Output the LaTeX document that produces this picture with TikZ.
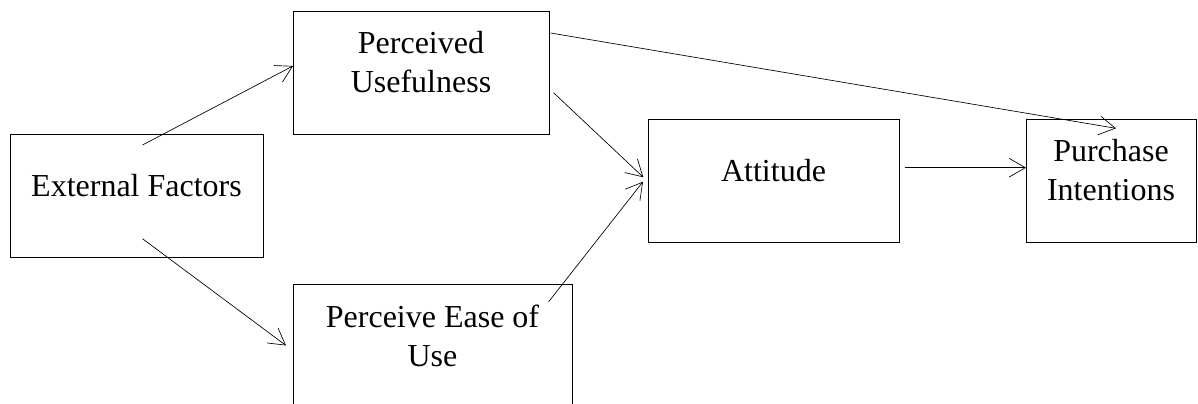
\documentclass[tikz,border=0pt]{standalone}
\usepackage{fontspec}
\setmainfont{Liberation Serif}
\usetikzlibrary{arrows,arrows.meta,shapes,positioning}
\tikzstyle{box} = [
  rectangle, draw, line width=0.6pt, outer sep=0pt, inner sep=5pt,
  align=flush center, minimum height=92.25pt,
  font=\fontsize{24pt}{29.25pt}\selectfont,
  execute at end node={\endgraf\vspace{15pt}\hrule height 0pt}
]
\tikzstyle{link} = [
  -{Straight Barb[angle=60:14pt]}, line width=0.5pt
]

\begin{document}
\begin{tikzpicture}
    \useasboundingbox (0,0) rectangle (898.5pt,-302.25pt);
    \clip (0,0) rectangle (898.5pt,-302.25pt);
    \node[box, text width=179.75pt] (ext) at (102.375pt,-146.625pt) {External Factors};
    \node[box, text width=182pt, above right=0pt and 22.5pt of ext] (useful) {Perceived\\Usefulness};
    \node[box, text width=199.25pt, below right=20.25pt and 22.5pt of ext] (ease) {Perceive Ease of\\Use};
    \node[box, text width=178.25pt, below right=-11.25pt and 74.25pt of useful] (att) {Attitude};
    \node[box, text width=117.5pt, right=95.25pt of att] (purch) {Purchase\\Intentions};

    \path[link] ([xshift=4.5pt, yshift=-8.25pt] ext.north) edge ([yshift=4.9pt] useful.west);
    \path[link] ([xshift=4.5pt, yshift=13.7pt] ext.south) edge ([xshift=-5.25pt] ease.west);
    \path[link] ([xshift=3.45pt, yshift=-15.2pt] useful.east) edge ([xshift=-3.5pt, yshift=2.4pt] att.west);
    \path[link] ([xshift=-17.5pt, yshift=-13.3pt] ease.north east) edge ([xshift=-3.75pt, yshift=-0.9pt] att.west);
    \path[link] ([xshift=1.2pt, yshift=-16.5pt] useful.north east) edge ([xshift=3.75pt, yshift=-7pt] purch.north);
    \path[link] ([xshift=4.2pt, yshift=9.6pt] att.east) edge ([yshift=9.6pt] purch.west);
  \end{tikzpicture}
\end{document}
